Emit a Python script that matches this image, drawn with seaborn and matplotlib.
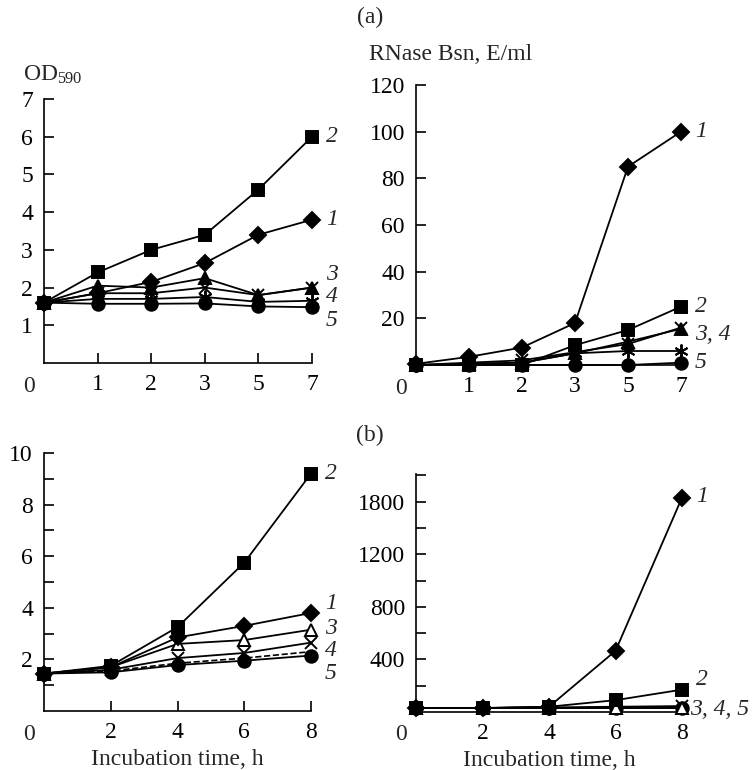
import matplotlib
matplotlib.use("Agg")
import matplotlib.pyplot as plt
import seaborn as sns

# (a) time points, drawn equally spaced on the axis
time_a = ["0", "1", "2", "3", "5", "7"]
pos_a = [0, 1, 2, 3, 4, 5]

# OD590, panel (a)
od_a_1 = [1.6, 1.85, 2.15, 2.65, 3.4, 3.8]
od_a_2 = [1.6, 2.4, 3.0, 3.4, 4.6, 6.0]
od_a_3 = [1.6, 2.05, 2.0, 2.25, 1.8, 2.0]
od_a_4 = [1.6, 1.85, 1.85, 2.0, 1.8, 2.0]
od_a_4b = [1.6, 1.7, 1.7, 1.75, 1.62, 1.65]
od_a_5 = [1.6, 1.57, 1.57, 1.58, 1.5, 1.48]

# RNase Bsn, E/ml, panel (a)
rn_a_1 = [0.5, 3.5, 7.5, 18, 85, 100]
rn_a_2 = [0, 0, 0, 8.5, 15, 25]
rn_a_3 = [0, 0.5, 1, 5, 10, 15.5]
rn_a_4 = [0, 1, 2, 5.5, 9, 16]
rn_a_4b = [0, 0.5, 1, 5, 6, 6]
rn_a_5 = [0, 0, 0, 0, 0, 1]

# (b) incubation time, h
time_b = [0, 2, 4, 6, 8]

# OD590, panel (b)
od_b_1 = [1.45, 1.7, 2.85, 3.3, 3.8]
od_b_2 = [1.45, 1.75, 3.25, 5.75, 9.2]
od_b_3 = [1.45, 1.7, 2.6, 2.75, 3.15]
od_b_4 = [1.45, 1.6, 2.05, 2.25, 2.65]
od_b_dash = [1.45, 1.55, 1.85, 2.05, 2.3]
od_b_5 = [1.45, 1.5, 1.78, 1.95, 2.15]

# RNase Bsn, E/ml, panel (b)
rn_b_1 = [30, 30, 40, 465, 1630]
rn_b_2 = [30, 30, 40, 90, 170]
rn_b_3 = [30, 30, 30, 30, 30]
rn_b_4 = [30, 30, 35, 40, 45]
rn_b_5 = [30, 30, 30, 30, 30]
rn_b_ticks = [200, 400, 600, 800, 1000, 1200, 1400, 1600, 1800]
# tick labels as printed in the original figure
rn_b_labels = ["", "400", "", "800", "", "1200", "", "1800", ""]

sns.set_theme(style="ticks")
plt.rcParams["font.family"] = ["Liberation Serif", "DejaVu Serif"]
plt.rcParams["mathtext.fontset"] = "stix"

W, H = 756, 770
fig = plt.figure(figsize=(W / 100, H / 100), dpi=100)


def box(x0, x1, ytop, ybot):
    # pixel box -> figure fraction
    return [x0 / W, 1 - ybot / H, (x1 - x0) / W, (ybot - ytop) / H]


ax_tl = fig.add_axes(box(44, 312, 99, 363))
ax_tr = fig.add_axes(box(416, 681, 85, 365))
ax_bl = fig.add_axes(box(44, 311, 453, 711))
ax_br = fig.add_axes(box(416, 682, 474, 712))


def line(ax, x, y, marker, filled=True, ms=9, ls="-", lw=1.3):
    sns.lineplot(x=x, y=y, ax=ax, color="black", marker=marker, markersize=ms,
                 markerfacecolor="black" if filled else "white",
                 markeredgecolor="black", markeredgewidth=1.4,
                 linewidth=lw, linestyle=ls, clip_on=False, zorder=3)


def tag(ax, x, y, s, dx=10):
    ax.annotate(s, xy=(x, y), xytext=(dx, 0), textcoords="offset points",
                ha="left", va="center", fontsize=17, style="italic",
                annotation_clip=False)


def style(ax):
    for sp in ["top", "right"]:
        ax.spines[sp].set_visible(False)
    for sp in ["left", "bottom"]:
        ax.spines[sp].set_linewidth(1.2)
        ax.spines[sp].set_color("black")
    ax.tick_params(direction="in", length=7, width=1.2, labelsize=17, pad=8,
                   colors="black")
    ax.annotate("0", xy=(0, 0), xycoords="axes fraction", xytext=(-11, -9),
                textcoords="offset points", ha="center", va="top", fontsize=17)


# top left: OD590
line(ax_tl, pos_a, od_a_5, "o")
line(ax_tl, pos_a, od_a_4b, (6, 2, 0), ms=10)
line(ax_tl, pos_a, od_a_4, "x", ms=9)
line(ax_tl, pos_a, od_a_3, "^")
line(ax_tl, pos_a, od_a_1, "D", ms=8)
line(ax_tl, pos_a, od_a_2, "s", ms=8.5)
ax_tl.set_xlim(0, 5)
ax_tl.set_ylim(0, 7)
ax_tl.set_yticks(range(1, 8))
ax_tl.set_xticks(pos_a[1:])
ax_tl.set_xticklabels(time_a[1:])
tag(ax_tl, 5, 6.0, "2")
tag(ax_tl, 5, 3.8, "1")
tag(ax_tl, 5, 2.35, "3")
tag(ax_tl, 5, 1.75, "4")
tag(ax_tl, 5, 1.12, "5")

# top right: RNase
line(ax_tr, pos_a, rn_a_5, "o")
line(ax_tr, pos_a, rn_a_4b, (6, 2, 0), ms=10)
line(ax_tr, pos_a, rn_a_4, "x", ms=9)
line(ax_tr, pos_a, rn_a_3, "^")
line(ax_tr, pos_a, rn_a_2, "s", ms=8.5)
line(ax_tr, pos_a, rn_a_1, "D", ms=8)
ax_tr.set_xlim(0, 5)
ax_tr.set_ylim(0, 120)
ax_tr.set_yticks(range(20, 121, 20))
ax_tr.set_xticks(pos_a[1:])
ax_tr.set_xticklabels(time_a[1:])
tag(ax_tr, 5, 100, "1")
tag(ax_tr, 5, 25, "2")
tag(ax_tr, 5, 13, "3, 4")
tag(ax_tr, 5, 1, "5")

# bottom left: OD590
line(ax_bl, time_b, od_b_dash, None, ls="--", lw=1.2)
line(ax_bl, time_b, od_b_5, "o")
line(ax_bl, time_b, od_b_4, "x", ms=9)
line(ax_bl, time_b, od_b_3, "^", filled=False)
line(ax_bl, time_b, od_b_1, "D", ms=8)
line(ax_bl, time_b, od_b_2, "s", ms=8.5)
ax_bl.set_xlim(0, 8)
ax_bl.set_ylim(0, 10)
ax_bl.set_yticks(range(1, 11))
ax_bl.set_yticklabels([str(v) if v % 2 == 0 else "" for v in range(1, 11)])
ax_bl.set_xticks([2, 4, 6, 8])
tag(ax_bl, 8, 9.2, "2")
tag(ax_bl, 8, 4.15, "1")
tag(ax_bl, 8, 3.2, "3")
tag(ax_bl, 8, 2.35, "4")
tag(ax_bl, 8, 1.45, "5")

# bottom right: RNase
line(ax_br, time_b, rn_b_5, "o")
line(ax_br, time_b, rn_b_4, "x", ms=9)
line(ax_br, time_b, rn_b_3, "^", filled=False)
line(ax_br, time_b, rn_b_2, "s", ms=8.5)
line(ax_br, time_b, rn_b_1, "D", ms=8)
ax_br.set_xlim(0, 8)
ax_br.set_ylim(0, 1810)
ax_br.set_yticks(rn_b_ticks)
ax_br.set_yticklabels(rn_b_labels)
ax_br.set_xticks([2, 4, 6, 8])
tag(ax_br, 8, 1640, "1")
tag(ax_br, 8, 250, "2")
tag(ax_br, 8, 20, "3, 4, 5", dx=6)

for ax in (ax_tl, ax_tr, ax_bl, ax_br):
    style(ax)
for ax in (ax_bl, ax_br):
    ax.set_xlabel("Incubation time, h", fontsize=17, labelpad=4)

fig.text(370 / W, 1 - 17 / H, "(a)", ha="center", va="center", fontsize=17)
fig.text(370 / W, 1 - 435 / H, "(b)", ha="center", va="center", fontsize=17)
fig.text(23 / W, 1 - 75 / H, "OD$_{\\mathregular{590}}$", ha="left", va="center", fontsize=17)
fig.text(369 / W, 1 - 54 / H, "RNase Bsn, E/ml", ha="left", va="center", fontsize=17)

fig.savefig("out.png", dpi=100)
